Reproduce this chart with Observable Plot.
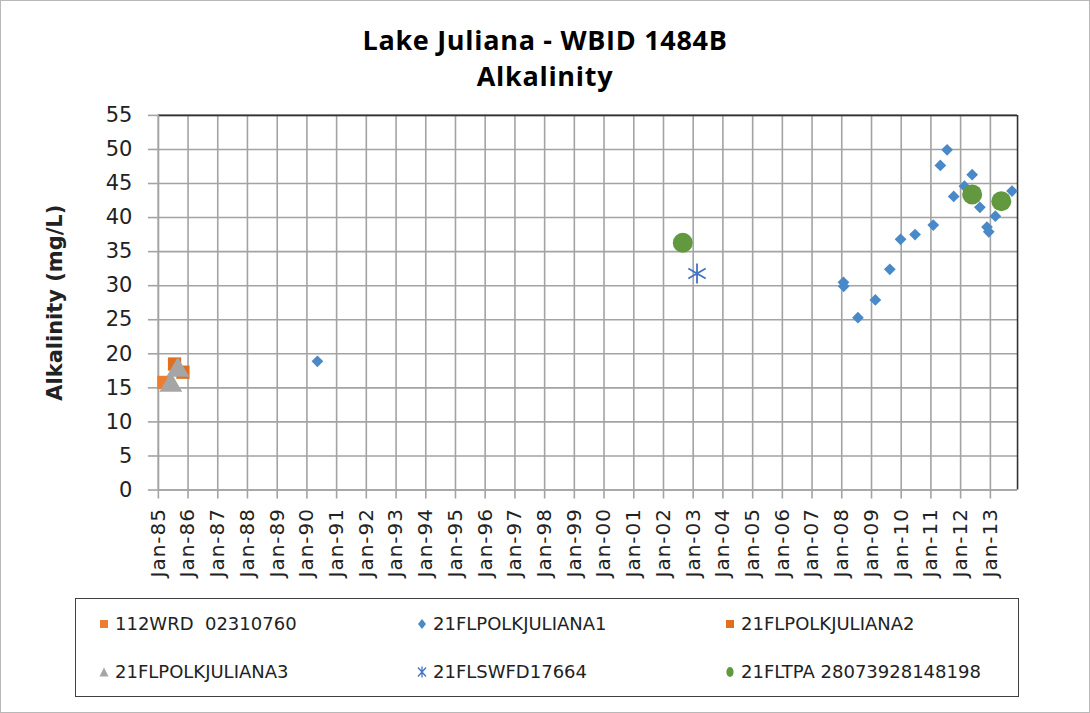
<!DOCTYPE html>
<html><head><meta charset="utf-8">
<script src="https://cdn.jsdelivr.net/npm/d3@7"></script>
<script src="https://cdn.jsdelivr.net/npm/@observablehq/plot@0.6"></script>
<style>
body{margin:0;background:#fff;}
#wrap{position:relative;width:1090px;height:713px;box-sizing:border-box;border:1px solid #b8b8b8;overflow:hidden;background:#fff}
#title{position:absolute;left:0;width:1088px;top:21px;text-align:center;font:bold 27px "Open Sans",sans-serif;letter-spacing:0.7px;line-height:36px;color:#000}
#chart{position:absolute;left:-1px;top:-1px}
#legend{position:absolute;left:74px;top:597px;width:944px;height:99px;border:1.5px solid #404040;box-sizing:border-box}
.item{position:absolute;font:18px "DejaVu Sans",sans-serif;color:#222;white-space:pre;display:flex;align-items:center}
.item svg{margin-right:5px}
g[aria-label="y-axis label"] text{font-weight:bold;font-size:21px;font-family:"DejaVu Sans",sans-serif}
g[aria-label="x-axis tick label"] text{letter-spacing:1px}
</style></head>
<body>
<div id="wrap">
<div id="title">Lake Juliana - WBID 1484B<br>Alkalinity</div>
<div id="chart"></div>
<div id="legend"></div>
</div>
<script>
// ---- data ----
const seriesNames = ["112WRD  02310760","21FLPOLKJULIANA1","21FLPOLKJULIANA2","21FLPOLKJULIANA3","21FLSWFD17664","21FLTPA 28073928148198"];
const seriesColors = ["#ED7D31","#4A89C8","#E0701F","#A5A5A5","#4472C4","#62993E"];

const wrdDates = ["1985-03-10"];
const wrdValues = [15.8];

const polk1Dates = ["1990-05-10","2008-01-22","2008-01-25","2008-07-18","2009-02-17","2009-08-14","2009-12-24","2010-06-20","2011-01-30","2011-04-27","2011-07-19","2011-10-08","2012-02-17","2012-05-22","2012-08-25","2012-11-20","2012-12-12","2013-03-03","2013-09-24"];
const polk1Values = [18.9,30.5,29.9,25.3,27.9,32.4,36.8,37.5,38.9,47.65,49.95,43.1,44.6,46.3,41.5,38.6,37.9,40.2,43.9];

const polk2Dates = ["1985-07-19","1985-10-30"];
const polk2Values = [18.5,17.3];

const polk3Dates = ["1985-06-03","1985-08-28"];
const polk3Values = [15.4,17.6];

const swfdDates = ["2003-02-17"];
const swfdValues = [31.8];

const tpaDates = ["2002-08-26","2012-05-22","2013-05-15"];
const tpaValues = [36.3,43.4,42.4];

const yTicks = [0,5,10,15,20,25,30,35,40,45,50,55];
const xStart = "1985-01-01", xEnd = "2013-12-01";
const xTicks = d3.utcYear.range(new Date("1985-01-01"), new Date("2013-02-01"));

const rows = (dates, vals) => dates.map((d,i)=>({date:new Date(d), value:vals[i]}));

const grid = "#a3a3a3";
const chart = Plot.plot({
  width:1090, height:600,
  marginLeft:158, marginRight:72, marginTop:115, marginBottom:110,
  x:{type:"utc", domain:[new Date(xStart), new Date(xEnd)]},
  y:{domain:[0,55]},
  style:{fontFamily:"'DejaVu Sans',sans-serif", color:"#222", background:"transparent"},
  marks:[
    Plot.gridX(xTicks,{stroke:grid, strokeOpacity:1, strokeWidth:1.6}),
    Plot.gridY(yTicks,{stroke:grid, strokeOpacity:1, strokeWidth:1.6}),
    Plot.ruleY([55],{stroke:"#333", strokeWidth:1.6}),
    Plot.ruleX([new Date(xEnd)],{stroke:"#333", strokeWidth:1.6}),
    Plot.ruleY([0],{stroke:grid, strokeWidth:1.6}),
    Plot.ruleX([new Date(xStart)],{stroke:grid, strokeWidth:1.6}),
    Plot.axisX(xTicks,{tickFormat:d3.utcFormat("%b-%y"), tickRotate:-90, tickSize:9, tickPadding:9, fontSize:20, stroke:grid, strokeWidth:1.6, label:null, color:"#222"}),
    Plot.axisY(yTicks,{tickSize:10, tickPadding:16, fontSize:21, stroke:grid, strokeWidth:1.6, label:"Alkalinity (mg/L)", labelAnchor:"center", labelArrow:"none", labelOffset:111, color:"#222"}),
    Plot.dot(rows(wrdDates,wrdValues),{x:"date",y:"value",symbol:"square",r:7.5,fill:seriesColors[0]}),
    Plot.dot(rows(polk1Dates,polk1Values),{x:"date",y:"value",symbol:"diamond2",r:5.3,fill:seriesColors[1]}),
    Plot.dot(rows(polk2Dates,polk2Values),{x:"date",y:"value",symbol:"square",r:7.5,fill:seriesColors[2]}),
    Plot.dot(rows(polk3Dates,polk3Values),{x:"date",y:"value",symbol:"triangle",r:8.5,fill:seriesColors[3]}),
    Plot.dot(rows(swfdDates,swfdValues),{x:"date",y:"value",symbol:"asterisk",r:9.5,stroke:seriesColors[4],strokeWidth:1.8}),
    Plot.dot(rows(tpaDates,tpaValues),{x:"date",y:"value",symbol:"circle",r:10,fill:seriesColors[5]})
  ]
});
document.getElementById("chart").append(chart);

// legend
const markers = [
  c=>`<rect x="2" y="2" width="8" height="8" fill="${c}"/>`,
  c=>`<path d="M6 1 L10 6 L6 11 L2 6 Z" fill="${c}"/>`,
  c=>`<rect x="2" y="2" width="8" height="8" fill="${c}"/>`,
  c=>`<path d="M6 1.5 L10.5 10.5 L1.5 10.5 Z" fill="${c}"/>`,
  c=>`<path d="M6 0.5 V11.5 M2 1.5 L10 10.5 M10 1.5 L2 10.5" stroke="${c}" stroke-width="1.3" fill="none"/>`,
  c=>`<ellipse cx="6" cy="6" rx="3.6" ry="5" fill="${c}"/>`
];
const legX = [22, 340, 648], legY = [14, 62];
const leg = document.getElementById("legend");
seriesNames.forEach((n,i)=>{
  const d = document.createElement("div");
  d.className="item";
  d.style.left = legX[i%3]+"px";
  d.style.top = legY[Math.floor(i/3)]+"px";
  d.innerHTML = `<svg width="12" height="12">${markers[i](seriesColors[i])}</svg>${n}`;
  leg.append(d);
});
</script>
</body></html>
